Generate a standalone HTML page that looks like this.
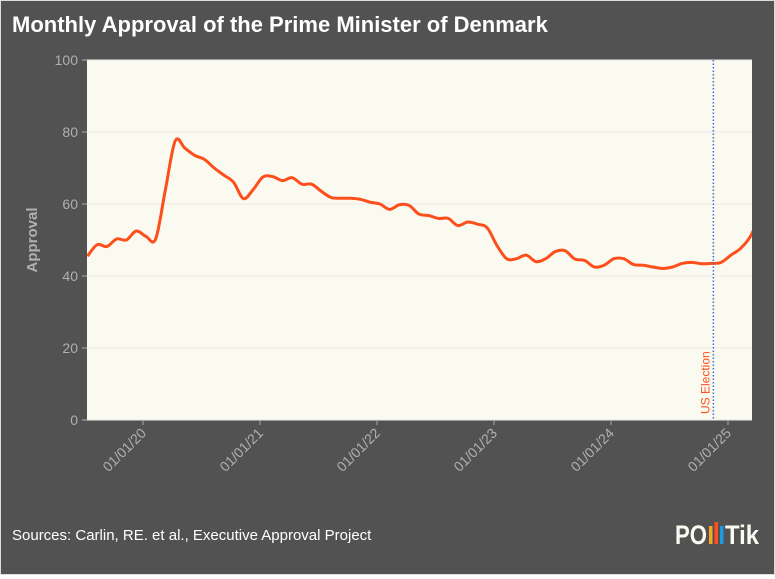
<!DOCTYPE html>
<html><head><meta charset="utf-8"><style>
html,body{margin:0;padding:0;background:#fff}
#wrap{position:relative;width:773px;height:573px;background:#525252;border:1px solid #ddd;font-family:"Liberation Sans",sans-serif}
</style></head><body>
<div id="wrap">
<svg id="chart" width="773" height="573"></svg>
</div>
<script>
const startYear = 2019, startMonth = 7;
const approval = [45.5,48.7,48.2,50.3,50,52.5,51,50.3,64,77.5,75.5,73.5,72.4,70,68,66,61.5,64,67.5,67.6,66.5,67.3,65.5,65.5,63.5,61.8,61.6,61.6,61.3,60.5,60,58.5,59.8,59.6,57.2,56.8,56,56,54,55,54.4,53.4,48.5,44.8,44.8,45.8,44,44.8,46.8,47,44.7,44.3,42.5,43,44.8,44.8,43.2,43,42.5,42.1,42.5,43.5,43.8,43.4,43.5,43.8,45.8,47.7,51,57];
const yTicks = [0,20,40,60,80,100];
const xTickLabels = ["01/01/20","01/01/21","01/01/22","01/01/23","01/01/24","01/01/25"];
const xTickMonths = [0,12,24,36,48,60];
const electionMonth = 58.5;

const svg = document.getElementById('chart');
const NS = 'http://www.w3.org/2000/svg';
const L=86,R=751,T=59,B=419;
function xs(m){return 142+m*9.75;}
function ys(v){return B-(v/100)*(B-T);}
function mk(tag,attrs,parent){const e=document.createElementNS(NS,tag);for(const k in attrs)e.setAttribute(k,attrs[k]);(parent||svg).appendChild(e);return e;}

let t=mk('text',{x:11,y:31,fill:'#fff','font-size':22,'font-weight':'bold'});


t.textContent='Monthly Approval of the Prime Minister of Denmark';

let bg=mk('rect',{x:L,y:T,width:R-L,height:B-T,fill:'#fbfaf1'});



yTicks.forEach(v=>{
  const g=mk('line',{x1:L,x2:R,y1:ys(v),y2:ys(v),stroke:'#e8e8e8','stroke-width':1});
  
  
  const tk=mk('line',{x1:L-5,x2:L,y1:ys(v),y2:ys(v),stroke:'#aaa'});
  
  
  const lb=mk('text',{x:L-9,y:ys(v)+5,fill:'#b0b0b0','font-size':14,'text-anchor':'end'});
  
  
  lb.textContent=v;
});

let yt=mk('text',{x:0,y:0,fill:'#b0b0b0','font-size':15,'font-weight':'bold','text-anchor':'middle',transform:`translate(36,${(T+B)/2}) rotate(-90)`});


yt.textContent='Approval';

xTickMonths.forEach((m,i)=>{
  const x=xs(m);
  const tk=mk('line',{x1:x,x2:x,y1:B,y2:B+5,stroke:'#aaa'});
  
  
  const lb=mk('text',{x:0,y:0,fill:'#b0b0b0','font-size':14,'text-anchor':'end',transform:`translate(${x+4},${B+14}) rotate(-45)`});
  
  
  lb.textContent=xTickLabels[i];
});

const clip=mk('clipPath',{id:'clip'});
mk('rect',{x:L,y:T,width:R-L,height:B-T},clip);

const pts=approval.map((v,i)=>[xs(i-6+0.3),ys(v)]);
let d='M'+pts[0][0]+','+pts[0][1];
for(let i=0;i<pts.length-1;i++){
  const p0=pts[Math.max(0,i-1)],p1=pts[i],p2=pts[i+1],p3=pts[Math.min(pts.length-1,i+2)];
  const c1=[p1[0]+(p2[0]-p0[0])/6,p1[1]+(p2[1]-p0[1])/6];
  const c2=[p2[0]-(p3[0]-p1[0])/6,p2[1]-(p3[1]-p1[1])/6];
  d+=`C${c1[0]},${c1[1]} ${c2[0]},${c2[1]} ${p2[0]},${p2[1]}`;
}
const line=mk('path',{d:d,fill:'none',stroke:'#fc4f1c','stroke-width':3,'clip-path':'url(#clip)','stroke-linejoin':'round'});



const ex=xs(electionMonth);
const el=mk('line',{x1:ex,x2:ex,y1:T,y2:B,stroke:'#3a6fe0','stroke-width':1.5,'stroke-dasharray':'1.5,2'});


const etx=mk('text',{x:0,y:0,fill:'#fc4f1c','font-size':12,transform:`translate(${ex-4},${B-6}) rotate(-90)`});


etx.textContent='US Election';

const src=mk('text',{x:11,y:539,fill:'#fff','font-size':15});


src.textContent='Sources: Carlin, RE. et al., Executive Approval Project';

const logo=mk('g',{});


const lt=mk('text',{x:674,y:543,fill:'#fbfaf1','font-size':27,'font-weight':'bold','textLength':32,lengthAdjust:'spacingAndGlyphs'},logo);
lt.textContent='PO';
mk('rect',{x:708,y:525,width:3.5,height:18,fill:'#f5a623'},logo);
mk('rect',{x:713.5,y:521,width:3.5,height:22,fill:'#fc4f1c'},logo);
mk('rect',{x:719,y:525,width:3.5,height:18,fill:'#1e9be0'},logo);
const lt2=mk('text',{x:724,y:543,fill:'#fbfaf1','font-size':27,'font-weight':'bold','textLength':34,lengthAdjust:'spacingAndGlyphs'},logo);
lt2.textContent='Tik';
</script>
</body></html>
